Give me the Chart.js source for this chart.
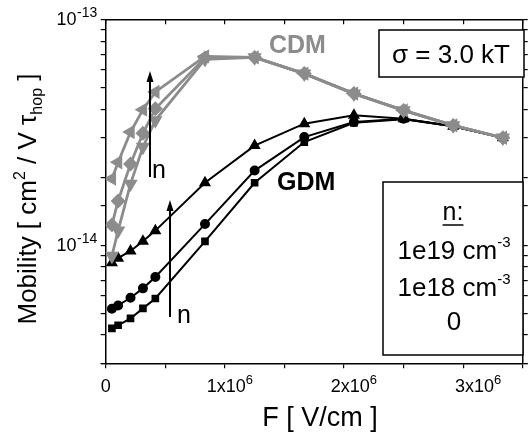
<!DOCTYPE html>
<html>
<head>
<meta charset="utf-8">
<script src="https://cdn.jsdelivr.net/npm/chart.js@4"></script>
<style>
  body { margin: 0; background: #fff; }
  #wrap { width: 531px; height: 432px; }
</style>
</head>
<body>
<div id="wrap"><canvas id="mobility-chart" width="531" height="432"></canvas></div>
<script>
// field values (V/cm)
const fieldValues = [0.05e6, 0.1e6, 0.2e6, 0.3e6, 0.4e6, 0.8e6, 1.2e6, 1.6e6, 2.0e6, 2.4e6, 2.8e6, 3.2e6];

// CDM mobility, per carrier density
const cdm1e19 = [1.97e-14, 2.33e-14, 3.17e-14, 3.98e-14, 4.77e-14, 6.85e-14, 6.78e-14, 5.75e-14, 4.69e-14, 3.95e-14, 3.39e-14, 2.99e-14];
const cdm1e18 = [1.23e-14, 1.57e-14, 2.29e-14, 3.13e-14, 4.02e-14, 6.75e-14, 6.78e-14, 5.75e-14, 4.69e-14, 3.95e-14, 3.39e-14, 2.99e-14];
const cdm0 = [8.96e-15, 1.16e-14, 1.87e-14, 2.72e-14, 3.57e-14, 6.65e-14, 6.78e-14, 5.75e-14, 4.69e-14, 3.95e-14, 3.39e-14, 2.99e-14];

// GDM mobility, per carrier density
const gdm1e19 = [8.37e-15, 8.76e-15, 9.43e-15, 1.04e-14, 1.16e-14, 1.89e-14, 2.76e-14, 3.45e-14, 3.76e-14, 3.63e-14, 3.36e-14, 2.99e-14];
const gdm1e18 = [5.23e-15, 5.41e-15, 5.85e-15, 6.44e-15, 7.23e-15, 1.24e-14, 2.14e-14, 3.01e-14, 3.51e-14, 3.63e-14, 3.36e-14, 2.99e-14];
const gdm0 = [4.28e-15, 4.42e-15, 4.74e-15, 5.25e-15, 5.81e-15, 1.04e-14, 1.89e-14, 2.86e-14, 3.48e-14, 3.61e-14, 3.36e-14, 2.99e-14];

// tick labels
const xTickValues = [0, 1e6, 2e6, 3e6];
const xTickLabels = [['0', ''], ['1x10', '6'], ['2x10', '6'], ['3x10', '6']];
const yTickValues = [1e-13, 1e-14];
const yTickLabels = [['10', '-13'], ['10', '-14']];

// legend text
const densityTitle = 'n:';
const densityLabels = [['1e19 cm', '-3'], ['1e18 cm', '-3'], ['0', '']];

const FONT = '"Liberation Sans", Arial, sans-serif';
const GRAY = '#8c8c8c';

const toPoints = vals => vals.map((v, i) => ({ x: fieldValues[i], y: v }));

// draw a row of text pieces: [text, size, dy, weight]
function textRuns(ctx, runs, x, y, align) {
  let w = 0;
  runs.forEach(r => {
    ctx.font = (r[3] || 'normal') + ' ' + r[1] + 'px ' + FONT;
    r.w = ctx.measureText(r[0]).width;
    w += r.w;
  });
  let cx = align === 'center' ? x - w / 2 : align === 'right' ? x - w : x;
  ctx.textAlign = 'left';
  ctx.textBaseline = 'alphabetic';
  runs.forEach(r => {
    ctx.font = (r[3] || 'normal') + ' ' + r[1] + 'px ' + FONT;
    ctx.fillText(r[0], cx, y + (r[2] || 0));
    cx += r.w;
  });
  return w;
}

function arrow(ctx, x, yFrom, yTip) {
  ctx.beginPath();
  ctx.moveTo(x, yFrom);
  ctx.lineTo(x, yTip + 8);
  ctx.lineWidth = 2;
  ctx.strokeStyle = '#000';
  ctx.stroke();
  ctx.beginPath();
  ctx.moveTo(x, yTip);
  ctx.lineTo(x - 3.5, yTip + 11);
  ctx.lineTo(x + 3.5, yTip + 11);
  ctx.closePath();
  ctx.fillStyle = '#000';
  ctx.fill();
}

const annotations = {
  id: 'annotations',
  afterDraw(chart) {
    const ctx = chart.ctx;
    const xs = chart.scales.x;
    const ys = chart.scales.y;
    ctx.save();
    ctx.fillStyle = '#000';

    // tick labels
    yTickValues.forEach((v, i) => {
      const py = ys.getPixelForValue(v);
      textRuns(ctx, [[yTickLabels[i][0], 18], [' ', 2], [yTickLabels[i][1], 14, -8]], xs.left - 8.5, py + 6, 'right');
    });
    xTickValues.forEach((v, i) => {
      const px = xs.getPixelForValue(v);
      textRuns(ctx, [[xTickLabels[i][0], 18], [xTickLabels[i][1], 13, -8]], px, 392, 'center');
    });

    // axis titles
    textRuns(ctx, [['F [ V/cm ]', 27]], 320, 426, 'center');
    ctx.save();
    ctx.translate(36, 199);
    ctx.rotate(-Math.PI / 2);
    textRuns(ctx, [['Mobility [ cm', 26], ['2', 16, -11], [' / V ', 26], ['\u03c4', 26], ['hop', 16, 6], [' ]', 26]], 0, 0, 'center');
    ctx.restore();

    // model labels
    ctx.fillStyle = GRAY;
    textRuns(ctx, [['CDM', 25, 0, 'bold']], 269, 53, 'left');
    ctx.fillStyle = '#000';
    textRuns(ctx, [['GDM', 25, 0, 'bold']], 277, 190, 'left');

    // density arrows
    arrow(ctx, 150, 177, 71);
    textRuns(ctx, [['n', 25]], 152, 178, 'left');
    arrow(ctx, 170, 317, 200);
    textRuns(ctx, [['n', 25]], 177, 323, 'left');

    // sigma box
    ctx.fillStyle = '#fff';
    ctx.fillRect(379, 30, 145, 47);
    ctx.strokeStyle = '#000';
    ctx.lineWidth = 1.5;
    ctx.strokeRect(379, 30, 145, 47);
    ctx.fillStyle = '#000';
    textRuns(ctx, [['\u03c3 = 3.0 kT', 26]], 451, 63, 'center');

    // density legend box
    ctx.fillStyle = '#fff';
    ctx.fillRect(383, 182, 140, 173);
    ctx.strokeRect(383, 182, 140, 173);
    ctx.fillStyle = '#000';
    const tw = textRuns(ctx, [[densityTitle, 25]], 453, 220, 'center');
    ctx.beginPath();
    ctx.moveTo(453 - tw / 2, 225);
    ctx.lineTo(453 + tw / 2, 225);
    ctx.lineWidth = 1.5;
    ctx.stroke();
    const rows = [259, 296, 330];
    densityLabels.forEach((d, i) => {
      textRuns(ctx, [[d[0], 26], [d[1], 15, -12]], 454, rows[i], 'center');
    });
    ctx.restore();
  }
};

const axisCommon = {
  ticks: { display: false },
  grid: { drawOnChartArea: false, color: '#000', lineWidth: 1.2, tickLength: 5 },
  border: { color: '#000', width: 1.5 }
};

const chart = new Chart(document.getElementById('mobility-chart'), {
  type: 'line',
  data: {
    datasets: [{
      data: toPoints(cdm1e19),
      borderColor: GRAY, backgroundColor: GRAY, borderWidth: 2.8,
      pointStyle: 'triangle', pointRotation: 270, pointRadius: 5.5
    }, {
      data: toPoints(cdm1e18),
      borderColor: GRAY, backgroundColor: GRAY, borderWidth: 2.8,
      pointStyle: 'rectRot', pointRadius: 5.5
    }, {
      data: toPoints(cdm0),
      borderColor: GRAY, backgroundColor: GRAY, borderWidth: 2.8,
      pointStyle: 'triangle', pointRotation: 180, pointRadius: 5.5
    }, {
      data: toPoints(gdm1e19),
      borderColor: '#000', backgroundColor: '#000', borderWidth: 2,
      pointStyle: 'triangle', pointRadius: 5
    }, {
      data: toPoints(gdm1e18),
      borderColor: '#000', backgroundColor: '#000', borderWidth: 2,
      pointStyle: 'circle', pointRadius: 4
    }, {
      data: toPoints(gdm0),
      borderColor: '#000', backgroundColor: '#000', borderWidth: 2,
      pointStyle: 'rect', pointRadius: 4
    }]
  },
  options: {
    responsive: false,
    animation: false,
    devicePixelRatio: 1,
    layout: { padding: 0 },
    plugins: { legend: { display: false }, tooltip: { enabled: false } },
    elements: { line: { tension: 0 }, point: { borderWidth: 0 } },
    scales: {
      x: {
        type: 'linear', position: 'bottom', min: 0, max: 3.36e6,
        ...axisCommon,
        ticks: { display: false, stepSize: 5e5 },
        afterFit: s => { s.height = 68.7; }
      },
      x2: {
        type: 'linear', position: 'top', min: 0, max: 3.36e6,
        ...axisCommon,
        ticks: { display: false, stepSize: 5e5 },
        grid: { drawOnChartArea: false, color: '#000', lineWidth: 1.2, tickLength: -5 },
        afterFit: s => { s.height = 19.3; }
      },
      y: {
        type: 'logarithmic', position: 'left', min: 3e-15, max: 1e-13,
        ...axisCommon,
        afterFit: s => { s.width = 105.7; }
      },
      y2: {
        type: 'logarithmic', position: 'right', min: 3e-15, max: 1e-13,
        ...axisCommon,
        afterFit: s => { s.width = 4.3; }
      }
    }
  },
  plugins: [annotations]
});
</script>
</body>
</html>
